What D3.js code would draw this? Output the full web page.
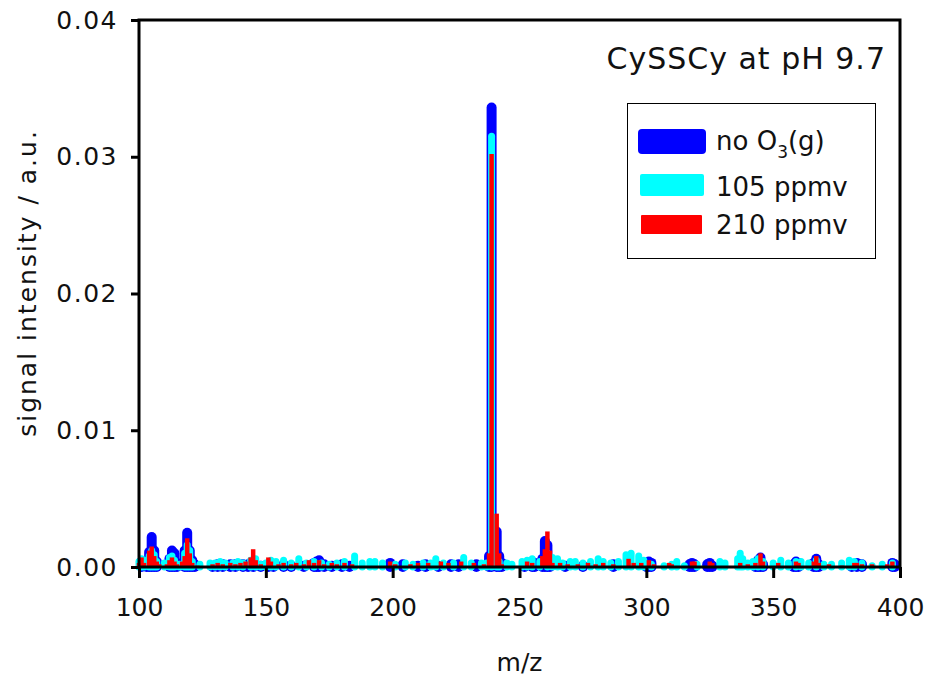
<!DOCTYPE html>
<html>
<head>
<meta charset="utf-8">
<script src="https://cdn.jsdelivr.net/npm/d3@7"></script>
<style>
  body { margin: 0; background: #fff; }
  svg { display: block; }
  text { font-family: "DejaVu Sans", sans-serif; fill: #111; }
</style>
</head>
<body>
<div id="chart"></div>
<script>
// m/z, intensity (a.u.)
var noO3 = [
  [101,0.0004],[103,0.0003],[104,0.0011],[105,0.0022],[106,0.0012],[107,0.0004],
  [112,0.0006],[113,0.0012],[114,0.0010],[115,0.0003],[118,0.0012],[119,0.0025],[120,0.0012],
  [121,0.0005],[122,0.0002],[129,0.0001],[131,0.0002],[133,0.0002],[136,0.0002],[138,0.0002],
  [141,0.0002],[143,0.0002],[145,0.0004],[148,0.0001],[151,0.0002],[153,0.0002],[157,0.0002],
  [160,0.0001],[165,0.0001],[169,0.0003],[170,0.0004],[171,0.0005],[173,0.0002],[176,0.0001],
  [180,0.0002],[183,0.0001],[199,0.0003],[204,0.0002],[210,0.0001],[213,0.0002],[218,0.0001],
  [223,0.0002],[226,0.0002],[233,0.0002],[238,0.0008],[239,0.0336],[241,0.0026],[242,0.0008],
  [243,0.0003],[252,0.0001],[255,0.0004],[256,0.0003],[259,0.0006],[260,0.0019],[261,0.0016],
  [262,0.0004],[268,0.0001],[275,0.0001],[287,0.0002],[300,0.0003],[301,0.0004],[302,0.0003],
  [317,0.0002],[318,0.0003],[319,0.0002],[324,0.0002],[325,0.0003],[326,0.0001],[343,0.0002],
  [344,0.0005],[345,0.0007],[346,0.0002],[358,0.0002],[359,0.0004],[360,0.0003],[366,0.0003],
  [367,0.0006],[368,0.0002],[381,0.0002],[383,0.0003],[385,0.0002],[397,0.0003],[398,0.0002]
];
var ppmv105 = [
  [100,0.0004],[101,0.0006],[102,0.0005],[104,0.0008],[105,0.0012],[106,0.0009],[107,0.0004],
  [110,0.0003],[112,0.0007],[113,0.0008],[114,0.0005],[116,0.0002],[118,0.0010],[119,0.0016],
  [120,0.0012],[121,0.0004],[124,0.0002],[128,0.0003],[130,0.0003],[132,0.0004],[134,0.0003],
  [137,0.0003],[139,0.0004],[141,0.0003],[144,0.0005],[146,0.0006],[148,0.0002],[150,0.0003],
  [152,0.0005],[154,0.0004],[157,0.0005],[160,0.0003],[163,0.0006],[166,0.0003],[169,0.0004],
  [172,0.0003],[175,0.0002],[178,0.0003],[181,0.0004],[185,0.0008],[188,0.0003],[191,0.0004],
  [193,0.0004],[196,0.0003],[201,0.0002],[205,0.0003],[208,0.0002],[212,0.0003],[215,0.0003],
  [217,0.0006],[220,0.0003],[224,0.0003],[228,0.0007],[231,0.0003],[235,0.0003],[237,0.0003],
  [239,0.0315],[241,0.0006],[242,0.0004],[245,0.0003],[247,0.0002],[251,0.0004],[253,0.0005],
  [255,0.0006],[258,0.0004],[261,0.0010],[263,0.0007],[265,0.0006],[267,0.0003],[270,0.0004],
  [272,0.0004],[275,0.0003],[278,0.0004],[281,0.0006],[283,0.0004],[286,0.0003],[289,0.0004],
  [292,0.0009],[294,0.0010],[297,0.0008],[299,0.0005],[302,0.0002],[307,0.0001],[310,0.0002],
  [312,0.0004],[315,0.0001],[320,0.0002],[329,0.0004],[331,0.0003],[336,0.0006],[337,0.0010],
  [338,0.0006],[340,0.0003],[342,0.0004],[344,0.0006],[346,0.0004],[350,0.0003],[353,0.0005],
  [356,0.0003],[359,0.0004],[361,0.0004],[364,0.0003],[367,0.0005],[370,0.0002],[373,0.0002],
  [377,0.0003],[380,0.0005],[382,0.0004],[385,0.0003],[389,0.0001],[393,0.0002],[397,0.0003]
];
var ppmv210 = [
  [100,0.0003],[101,0.0007],[102,0.0003],[104,0.0012],[105,0.0015],[106,0.0008],[107,0.0004],
  [108,0.0002],[111,0.0002],[112,0.0005],[113,0.0007],[114,0.0004],[115,0.0002],[117,0.0004],
  [118,0.0008],[119,0.0021],[120,0.0010],[121,0.0003],[123,0.0001],[129,0.0002],[131,0.0003],
  [133,0.0002],[136,0.0003],[138,0.0002],[140,0.0003],[142,0.0004],[144,0.0007],[145,0.0013],
  [146,0.0005],[148,0.0002],[151,0.0007],[152,0.0004],[155,0.0002],[157,0.0003],[160,0.0002],
  [162,0.0003],[165,0.0002],[167,0.0005],[169,0.0003],[171,0.0005],[173,0.0002],[176,0.0003],
  [178,0.0002],[181,0.0003],[184,0.0002],[199,0.0004],[201,0.0002],[207,0.0002],[210,0.0003],
  [214,0.0003],[219,0.0004],[222,0.0003],[227,0.0004],[232,0.0003],[236,0.0002],[238,0.0010],
  [239,0.0302],[241,0.0039],[242,0.0010],[243,0.0002],[253,0.0004],[255,0.0003],[259,0.0008],
  [260,0.0013],[261,0.0026],[262,0.0012],[263,0.0003],[266,0.0003],[269,0.0002],[273,0.0002],
  [277,0.0003],[280,0.0002],[283,0.0003],[287,0.0002],[293,0.0006],[295,0.0003],[298,0.0003],
  [301,0.0005],[303,0.0002],[309,0.0003],[310,0.0002],[318,0.0004],[319,0.0004],[325,0.0004],
  [326,0.0003],[337,0.0003],[340,0.0002],[343,0.0003],[345,0.0010],[346,0.0004],[352,0.0003],
  [359,0.0004],[360,0.0003],[366,0.0004],[367,0.0008],[368,0.0003],[372,0.0002],[377,0.0001],
  [382,0.0003],[383,0.0003],[385,0.0002],[389,0.0002],[395,0.0002],[397,0.0004]
];
var xTicks = [100, 150, 200, 250, 300, 350, 400];
var yTicks = [0, 0.01, 0.02, 0.03, 0.04];
var seriesNames = ["no O3(g)", "105 ppmv", "210 ppmv"];
var seriesColors = ["#0000ff", "#00ffff", "#ff0000"];

var width = 930, height = 677;
var margin = {left: 139, right: 30, top: 20, bottom: 110};

var svg = d3.select("#chart").append("svg")
    .attr("width", width)
    .attr("height", height);

var x = d3.scaleLinear().domain([100, 400]).range([margin.left, width - margin.right]);
var y = d3.scaleLinear().domain([0, 0.04]).range([height - margin.bottom, margin.top]);

// spectra as thick sticks
var styles = [
    {data: noO3, color: seriesColors[0], w: 10, cap: "round"},
    {data: ppmv105, color: seriesColors[1], w: 7, cap: "round"},
    {data: ppmv210, color: seriesColors[2], w: 4.5, cap: "butt"}
];
styles.forEach(function (s) {
    svg.append("g")
        .selectAll("line")
        .data(s.data)
        .enter().append("line")
        .attr("x1", function (d) { return x(d[0]); })
        .attr("x2", function (d) { return x(d[0]); })
        .attr("y1", y(0))
        .attr("y2", function (d) { return y(d[1]); })
        .attr("stroke", s.color)
        .attr("stroke-width", s.w)
        .attr("stroke-linecap", s.cap);
});

// axes
var xAxis = svg.append("g")
    .attr("transform", "translate(0," + y(0) + ")")
    .call(d3.axisBottom(x).tickValues(xTicks).tickSize(11).tickPadding(20).tickFormat(d3.format("d")));
var yAxis = svg.append("g")
    .attr("transform", "translate(" + x(100) + ",0)")
    .call(d3.axisLeft(y).tickValues(yTicks).tickSize(8).tickPadding(13).tickFormat(d3.format(".2f")));
[xAxis, yAxis].forEach(function (a) {
    a.select(".domain").remove();
    a.selectAll(".tick line").attr("stroke", "#000").attr("stroke-width", 3);
    a.selectAll(".tick text")
        .style("font-family", "DejaVu Sans, sans-serif")
        .style("font-size", "25px")
        .attr("fill", "#111");
});
yAxis.selectAll(".tick text").style("letter-spacing", "1.5px");

// frame
svg.append("rect")
    .attr("x", x(100))
    .attr("y", y(0.04))
    .attr("width", x(400) - x(100))
    .attr("height", y(0) - y(0.04))
    .attr("fill", "none")
    .attr("stroke", "#000")
    .attr("stroke-width", 3);

// axis titles
svg.append("text")
    .attr("x", (x(100) + x(400)) / 2)
    .attr("y", 671)
    .attr("text-anchor", "middle")
    .style("font-size", "25px")
    .text("m/z");
svg.append("text")
    .attr("transform", "translate(36,283) rotate(-90)")
    .attr("text-anchor", "middle")
    .style("font-size", "25px")
    .style("letter-spacing", "2px")
    .text("signal intensity / a.u.");

// title
svg.append("text")
    .attr("x", 886)
    .attr("y", 69)
    .attr("text-anchor", "end")
    .style("font-size", "30px")
    .style("letter-spacing", "1px")
    .text("CySSCy at pH 9.7");

// legend
var legend = svg.append("g");
legend.append("rect")
    .attr("x", 627.5).attr("y", 103.5)
    .attr("width", 248).attr("height", 155)
    .attr("fill", "#fff").attr("stroke", "#000").attr("stroke-width", 1);
var sw = [
    {y: 129, h: 25, x: 638, w: 68, r: 4},
    {y: 174, h: 22, x: 640, w: 64, r: 2},
    {y: 215, h: 19, x: 641, w: 61, r: 1}
];
sw.forEach(function (s, i) {
    legend.append("rect")
        .attr("x", s.x).attr("y", s.y)
        .attr("width", s.w).attr("height", s.h)
        .attr("rx", s.r)
        .attr("fill", seriesColors[i]);
});
var lt1 = legend.append("text").attr("x", 716).attr("y", 150).style("font-size", "26px");
lt1.append("tspan").text("no O");
lt1.append("tspan").attr("dy", 8).style("font-size", "17px").text("3");
lt1.append("tspan").attr("dy", -8).text("(g)");
legend.append("text").attr("x", 716).attr("y", 196).style("font-size", "26px").text(seriesNames[1]);
legend.append("text").attr("x", 716).attr("y", 234).style("font-size", "26px").text(seriesNames[2]);
</script>
</body>
</html>
